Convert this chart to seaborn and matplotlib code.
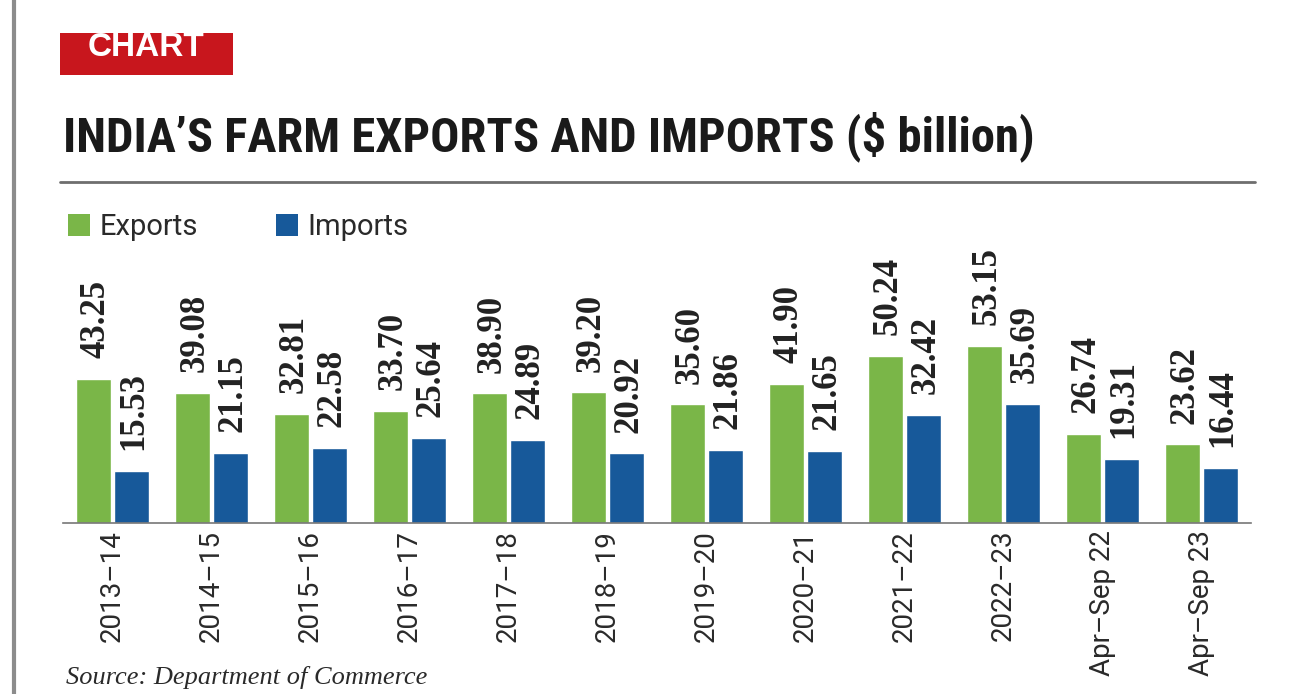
import seaborn as sns
import matplotlib.pyplot as plt
import pandas as pd
from matplotlib.patches import Rectangle, Patch
from matplotlib.lines import Line2D


years=['2013–14','2014–15','2015–16','2016–17','2017–18','2018–19','2019–20','2020–21','2021–22','2022–23','Apr–Sep 22','Apr–Sep 23']
exports=[43.25,39.08,32.81,33.70,38.90,39.20,35.60,41.90,50.24,53.15,26.74,23.62]
imports=[15.53,21.15,22.58,25.64,24.89,20.92,21.86,21.65,32.42,35.69,19.31,16.44]
series=['Exports','Imports']
colors=['#7ab648','#17599a']

# long form table for seaborn
dt=pd.DataFrame({'year':years*2, 'value':exports+imports, 'kind':['Exports']*len(years)+['Imports']*len(years)})

sns.set_style('white')
fig=plt.figure(figsize=(12.9,6.94), dpi=100)
W,H=1290,694
ax=fig.add_axes([63/W, 1-523/H, (1251-63)/W, 273/H])

sns.barplot(data=dt, x='year', y='value', hue='kind', hue_order=series, palette=colors,
            width=0.76, gap=0.08, ax=ax, saturation=1, legend=False)
ax.set_ylim(0, 82)
ax.set_xlim(-0.5, len(years)-0.5)

# value labels above bars
for cont in ax.containers:
    for bar in cont:
        h=bar.get_height()
        ax.annotate(f'{h:.2f}', (bar.get_x()+bar.get_width()/2, h), xytext=(2,15), textcoords='offset points',
                    rotation=90, ha='center', va='bottom', fontsize=25, family='Liberation Serif',
                    fontweight='bold', color='#222222', annotation_clip=False)

# axes cosmetics
for s in ['top','left','right']:
    ax.spines[s].set_visible(False)
ax.spines['bottom'].set_color('#777777')
ax.spines['bottom'].set_linewidth(1.2)
ax.set_yticks([])
ax.set_xlabel('')
ax.set_ylabel('')
ax.set_xticks(range(len(years)))
ax.set_xticklabels(years, rotation=90, fontsize=20, family='Roboto', color='#2a2a2a')
ax.tick_params(axis='x', length=0, pad=5)
ax.set_xticks([i-0.5 for i in range(len(years)+1)], minor=True)
ax.tick_params(axis='x', which='minor', length=3, color='#777777', width=1.2)

# legend
handles=[Patch(facecolor=c, edgecolor='none') for c in colors]
fig.legend(handles, series, loc='upper left', bbox_to_anchor=(68/W, 1-213/H), ncol=2, frameon=False,
           prop={'family':'Roboto', 'size':21}, labelcolor='#2a2a2a', handlelength=0.75, handleheight=0.8,
           handletextpad=0.35, columnspacing=2.65, borderpad=0, borderaxespad=0)

# title and header decorations
fig.text(63/W, 1-151/H, 'INDIA’S FARM EXPORTS AND IMPORTS ($ billion)', fontsize=35, fontweight='bold',
         family=['Liberation Sans Narrow','Roboto Condensed','DejaVu Sans Condensed','Liberation Sans'],
         color='#1a1a1a', va='baseline', ha='left')
fig.patches.append(Rectangle((60/W, 1-75/H), 173/W, 42/H, transform=fig.transFigure, facecolor='#c8161d', edgecolor='none'))
fig.text(146/W, 1-56/H, 'CHART', fontsize=24, fontweight='bold', family='Liberation Sans', color='white',
         ha='center', va='baseline')
fig.add_artist(Line2D([60/W, 1255/W], [1-182/H, 1-182/H], color='#6e6e6e', lw=2, transform=fig.transFigure))
fig.add_artist(Line2D([14/W, 14/W], [0, 1], color='#8c8c8c', lw=3, transform=fig.transFigure))

fig.text(66/W, 1-666/H, 'Source: Department of Commerce', fontsize=19, family='Liberation Serif', style='italic',
         color='#2a2a2a', ha='left', va='top')

fig.savefig('out.png', dpi=100)
